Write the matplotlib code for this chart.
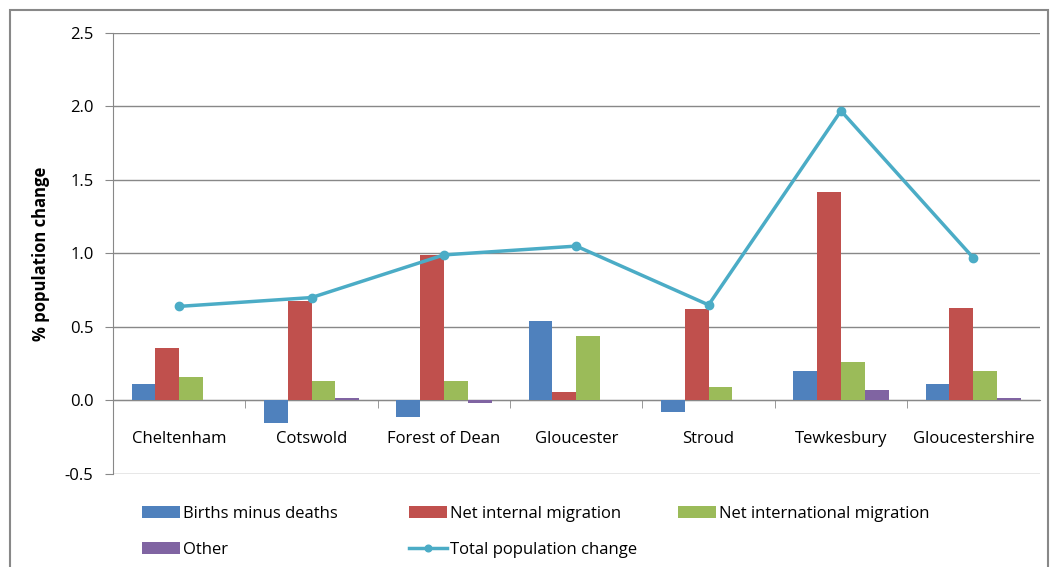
import matplotlib.pyplot as plt
import matplotlib.patches as mpatches
import numpy as np

plt.rcParams['font.family'] = ['Open Sans', 'DejaVu Sans']

districts = ["Cheltenham", "Cotswold", "Forest of Dean", "Gloucester",
             "Stroud", "Tewkesbury", "Gloucestershire"]

births_minus_deaths = [0.11, -0.15, -0.11, 0.54, -0.08, 0.20, 0.11]
net_internal = [0.36, 0.68, 0.99, 0.06, 0.62, 1.42, 0.63]
net_international = [0.16, 0.13, 0.13, 0.44, 0.09, 0.26, 0.20]
other = [0.005, 0.02, -0.02, 0.005, 0.005, 0.07, 0.02]
total_change = [0.64, 0.70, 0.99, 1.05, 0.65, 1.97, 0.97]

series = [
    ("Births minus deaths", births_minus_deaths, "#4F81BD"),
    ("Net internal migration", net_internal, "#C0504D"),
    ("Net international migration", net_international, "#9BBB59"),
    ("Other", other, "#8064A2"),
]

fig = plt.figure(figsize=(10.5, 5.67), dpi=100)
ax = fig.add_axes([0.1076, 0.164, 0.8824, 0.778])

x = np.arange(len(districts))
width = 0.18
bars = []
for i, (name, vals, col) in enumerate(series):
    b = ax.bar(x + (i - 1.5) * width, vals, width, color=col, label=name, zorder=3)
    bars.append(b)

line, = ax.plot(x, total_change, color="#4BACC6", lw=2.5, marker="o",
                markersize=6, label="Total population change", zorder=4)

ax.set_xlim(-0.5, len(districts) - 0.5)
ax.set_ylim(-0.5, 2.5)
ax.set_yticks(np.arange(-0.5, 2.51, 0.5))
ax.set_yticklabels([f"{v:.1f}" for v in np.arange(-0.5, 2.51, 0.5)], fontsize=12)
ax.yaxis.grid(True, color="#888888", lw=1, zorder=0)
ax.tick_params(axis="y", length=6, color="#888888", pad=8)

for s in ["top", "right"]:
    ax.spines[s].set_visible(False)
ax.spines["left"].set_color("#888888")
ax.spines["bottom"].set_color("#888888")
ax.spines["bottom"].set_position(("data", 0))
ax.spines["bottom"].set_zorder(2)

ax.set_xticks(x)
ax.set_xticklabels(districts, fontsize=12)
ax.tick_params(axis="x", which="major", length=0, pad=22)
ax.set_xticks(np.arange(0.5, len(districts) - 0.5), minor=True)
ax.tick_params(axis="x", which="minor", length=6, color="#888888", direction="out")

ax.set_ylabel("% population change", fontsize=12, fontweight="bold", labelpad=11)

# legend laid out like Excel: three equal-width columns, two rows
legend_cols = [([bars[0], bars[3]], 142), ([bars[1], line], 409), ([bars[2]], 678)]
for handles, xpx in legend_cols:
    leg = fig.legend(handles, [h.get_label() for h in handles], loc="upper left",
                     bbox_to_anchor=(xpx / 1050, 1 - 506 / 567), frameon=False,
                     fontsize=12, handlelength=2.25, handletextpad=0.2,
                     labelspacing=1.2, borderpad=0, borderaxespad=0,
                     markerscale=0.8)

fig.patches.append(mpatches.Rectangle((10 / 1050, -0.05), 1038 / 1050, 1.05 - 10 / 567,
                                      transform=fig.transFigure, fill=False,
                                      edgecolor="#888888", lw=1.5))

fig.savefig("out.png", dpi=100)
